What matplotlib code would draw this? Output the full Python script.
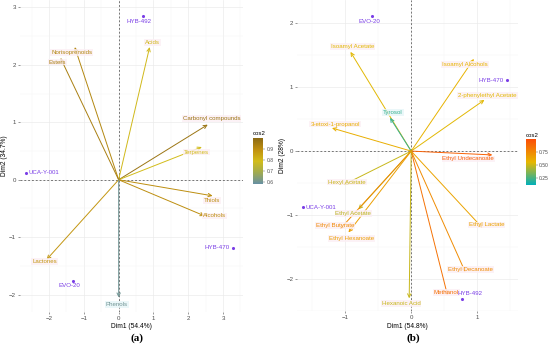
import numpy as np
import matplotlib
matplotlib.use("Agg")
import matplotlib.pyplot as plt
from matplotlib.colors import LinearSegmentedColormap, Normalize
from matplotlib.cm import ScalarMappable

plt.rcParams["font.family"] = ["Liberation Sans", "DejaVu Sans"]

# ---------------- DATA: panel (a) ----------------
vars_a = ["Acids", "Norisoprenoids", "Esters", "Carbonyl compounds", "Terpenes",
          "Thiols", "Alcohols", "Lactones", "Phenols"]
vx_a = [0.89, -1.26, -1.67, 2.56, 2.39, 2.70, 2.47, -2.07, 0.0]
vy_a = [2.31, 2.31, 2.12, 0.96, 0.57, -0.28, -0.63, -1.39, -2.05]
cos2_a = [0.80, 0.92, 0.94, 0.97, 0.79, 0.90, 0.90, 0.88, 0.60]

ind_a = ["HYB-492", "UCA-Y-001", "HYB-470", "EVO-20"]
ix_a = [0.69, -2.67, 3.28, -1.32]
iy_a = [2.85, 0.12, -1.18, -1.76]

# ---------------- DATA: panel (b) ----------------
vars_b = ["Isoamyl Acetate", "Isoamyl Alcohols", "2-phenylethyl Acetate", "Tyrosol",
          "3-etoxi-1-propanol", "Ethyl Undecanoate", "Hexyl Acetate", "Ethyl Acetate",
          "Ethyl Butyrate", "Ethyl Hexanoate", "Ethyl Lactate", "Ethyl Decanoate",
          "Methanol", "Hexanoic Acid"]
vx_b = [-0.92, 0.95, 1.11, -0.32, -1.20, 1.23, -1.03, -0.80, -1.08, -0.95, 1.08, 0.82, 0.55, -0.03]
vy_b = [1.55, 1.44, 0.80, 0.52, 0.36, -0.06, -0.53, -0.91, -1.22, -1.27, -1.20, -1.89, -2.25, -2.30]
cos2_b = [0.55, 0.58, 0.55, 0.22, 0.60, 0.92, 0.50, 0.48, 0.75, 0.66, 0.64, 0.74, 0.85, 0.50]

ind_b = ["EVO-20", "HYB-470", "UCA-Y-001", "HYB-492"]
ix_b = [-0.59, 1.45, -1.64, 0.77]
iy_b = [2.11, 1.11, -0.88, -2.31]

# ---------------- LABEL PLACEMENT (pixels, x right / y down) ----------------
off_var_a = [(3, -5), (-3, 5), (-3, 4), (4, -6), (-5, 5), (-1, 5), (10, 0), (-2, 2), (-2, 7)]
off_ind_a = [(-4, 5, "center"), (3, 0, "left"), (-3, 0, "right"), (-3, 5, "center")]
off_var_b = [(2, -5), (-9, 6), (3, -4), (3, -5), (3, -4), (-24, 4), (4, -3), (-5, 4),
             (-5, -4), (3, 6), (4, -3), (5, -3), (-1, -3), (-8, 5)]
off_ind_b = [(-3, 5, "center"), (-3, 0, "right"), (3, 0, "left"), (8, -5, "center")]

cmap_a = LinearSegmentedColormap.from_list(
    "cos2a", ["#6690A4", "#A0AA50", "#D2BC1A", "#C0900F", "#8C6A14"])
cmap_b = LinearSegmentedColormap.from_list("cos2b", ["#00AFBB", "#E7B800", "#FC4E07"])

POINT = "#7A3EE6"
FS = 4.4


def draw_panel(ax, names, vx, vy, cos2, offs, inds, ix, iy, ioffs, cmap, norm,
               xlim, ylim, xticks, yticks, xlab, ylab):
    ax.set_xticks(xticks)
    ax.set_yticks(yticks)
    ax.set_xticks(np.arange(xticks[0] - 0.5, xticks[-1] + 1, 1.0), minor=True)
    ax.set_yticks(np.arange(yticks[0] - 0.5, yticks[-1] + 1, 1.0), minor=True)
    # limits after ticks, otherwise set_ticks widens the view
    ax.set_xlim(*xlim)
    ax.set_ylim(*ylim)
    ax.grid(True, which="major", color="#EBEBEB", lw=0.5)
    ax.grid(True, which="minor", color="#F4F4F4", lw=0.35)
    ax.set_axisbelow(True)
    for s in ax.spines.values():
        s.set_visible(False)
    ax.tick_params(which="both", length=0)
    ax.tick_params(which="major", labelsize=FS, colors="#4D4D4D", length=1.5, width=0.4, pad=1.2)
    ax.set_xlabel(xlab, fontsize=FS + 0.4, labelpad=2)
    ax.set_ylabel(ylab, fontsize=FS + 0.4, labelpad=0.5)

    ax.axhline(0, color="#555555", lw=0.55, ls=(0, (2.5, 2.5)), zorder=1)
    ax.axvline(0, color="#555555", lw=0.55, ls=(0, (2.5, 2.5)), zorder=1)

    for name, x, y, c, (dx, dy) in zip(names, vx, vy, cos2, offs):
        col = cmap(norm(c))
        ax.annotate("", xy=(x, y), xytext=(0, 0),
                    arrowprops=dict(arrowstyle="->,head_length=0.25,head_width=0.12",
                                    color=col, lw=0.7, shrinkA=0, shrinkB=0), zorder=3)
        box = "#E6F6F8" if c < 0.4 * norm.vmax + 0.6 * norm.vmin else "#FCEFF4"
        ax.annotate(name, xy=(x, y), xytext=(dx, -dy), textcoords="offset pixels",
                    ha="center", va="center", fontsize=FS, color=col, zorder=4,
                    bbox=dict(boxstyle="square,pad=0.15", fc=box, ec="none", alpha=0.8))

    ax.scatter(ix, iy, s=5, color=POINT, zorder=5, linewidths=0)
    for name, x, y, (dx, dy, ha) in zip(inds, ix, iy, ioffs):
        ax.annotate(name, xy=(x, y), xytext=(dx, -dy), textcoords="offset pixels",
                    ha=ha, va="center", fontsize=FS, color=POINT, zorder=5)


fig = plt.figure(figsize=(5.5, 3.5), dpi=100)

ax_a = fig.add_axes([0.036, 0.109, 0.405, 0.891])
norm_a = Normalize(0.58, 1.0)
draw_panel(ax_a, vars_a, vx_a, vy_a, cos2_a, off_var_a, ind_a, ix_a, iy_a, off_ind_a,
           cmap_a, norm_a, (-2.84, 3.56), (-2.30, 3.13), [-2, -1, 0, 1, 2, 3],
           [-2, -1, 0, 1, 2, 3], "Dim1 (54.4%)", "Dim2 (34.7%)")

ax_b = fig.add_axes([0.54, 0.111, 0.402, 0.889])
norm_b = Normalize(0.12, 1.0)
draw_panel(ax_b, vars_b, vx_b, vy_b, cos2_b, off_var_b, ind_b, ix_b, iy_b, off_ind_b,
           cmap_b, norm_b, (-1.73, 1.62), (-2.5, 2.36), [-1, 0, 1],
           [-2, -1, 0, 1, 2], "Dim1 (54.8%)", "Dim2 (28%)")

# ---------------- COLORBARS ----------------
for pos, cmap, norm, ticks in [([0.46, 0.474, 0.018, 0.131], cmap_a, norm_a, [0.6, 0.7, 0.8, 0.9]),
                               ([0.956, 0.471, 0.018, 0.131], cmap_b, norm_b, [0.25, 0.50, 0.75])]:
    cax = fig.add_axes(pos)
    cb = fig.colorbar(ScalarMappable(norm=norm, cmap=cmap), cax=cax, ticks=ticks)
    cb.outline.set_visible(False)
    cb.ax.tick_params(labelsize=3.6, length=1.5, width=0.3, colors="#4D4D4D", pad=1)
    if len(ticks) == 3:
        cb.ax.set_yticklabels(["0.25", "0.50", "0.75"])
    cax.set_title("cos2", fontsize=4.4, pad=2, loc="left")

fig.text(0.249, 0.035, "(a)", fontsize=8, fontweight="bold", family="Liberation Serif",
         ha="center", va="center")
fig.text(0.751, 0.035, "(b)", fontsize=8, fontweight="bold", family="Liberation Serif",
         ha="center", va="center")

fig.savefig("out.png", dpi=100)
